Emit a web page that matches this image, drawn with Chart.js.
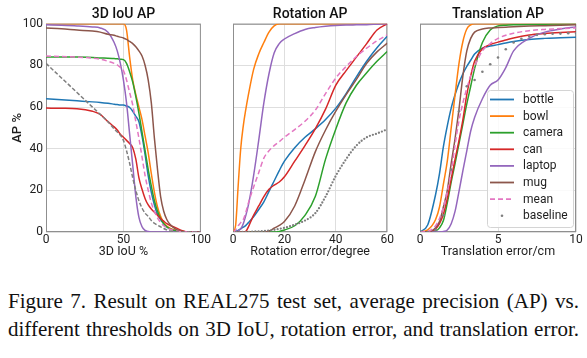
<!DOCTYPE html>
<html>
<head>
<meta charset="utf-8">
<script src="https://cdn.jsdelivr.net/npm/chart.js@4.4.1/dist/chart.umd.min.js"></script>
<style>
  body { margin: 0; background: #fff; width: 587px; height: 358px; position: relative; overflow: hidden; }
  canvas { position: absolute; top: 0; }
  #iouChart { left: 0; }
  #rotChart { left: 213px; }
  #transChart { left: 398px; }
  .caption {
    position: absolute; left: 8px; width: 571px; top: 287px;
    font-family: "Liberation Serif", "Times New Roman", serif;
    font-size: 21px; line-height: 28px; color: #111;
  }
  .caption div { text-align: justify; text-align-last: justify; }
</style>
</head>
<body>
<canvas id="iouChart" width="212" height="266"></canvas>
<canvas id="rotChart" width="182" height="266"></canvas>
<canvas id="transChart" width="189" height="266"></canvas>
<div class="caption">
  <div>Figure 7. Result on REAL275 test set, average precision (AP) vs.</div>
  <div>different thresholds on 3D IoU, rotation error, and translation error.</div>
</div>
<script>
// === Series ===
const seriesNames = ['bottle', 'bowl', 'camera', 'can', 'laptop', 'mug', 'mean', 'baseline'];

// === 3D IoU AP ===
const iouX = [0, 10, 20, 30, 35, 40, 44, 46, 48, 50, 52, 54, 56, 58, 60, 62, 64, 66, 68, 70, 72, 74, 76, 78, 80, 84, 88, 92, 100];
const iouBottle = [64, 63.5, 63, 62.5, 62.2, 61.8, 61.4, 61.2, 61, 61, 60.5, 59.8, 58, 55.5, 53, 46, 37, 27, 19, 13, 8.5, 6, 4, 2.5, 1.6, 0.6, 0.2, 0, 0];
const iouBowl = [100, 100, 100, 100, 100, 100, 100, 100, 100, 100, 97, 84, 73, 66, 60, 54, 46, 38, 28, 19, 12, 7.5, 4.5, 2.8, 1.8, 0.7, 0.2, 0, 0];
const iouCamera = [84, 84, 84, 83.8, 83.6, 83.5, 83.3, 83.2, 83, 82.8, 81, 77, 72, 65, 57, 48, 39, 30, 22, 15, 10, 6.5, 4, 2.5, 1.5, 0.5, 0.1, 0, 0];
const iouCan = [59.5, 59.4, 59.2, 58, 56.5, 53, 50.5, 49, 47, 45.5, 44, 42.5, 40.5, 35, 26, 20.5, 16, 13, 11, 9.5, 8, 6.5, 5.2, 4, 3.2, 2, 0.6, 0, 0];
const iouLaptop = [99.5, 99.3, 99, 98.5, 98, 96, 91, 87, 81, 73, 62, 47, 32, 17, 7, 2.5, 0.8, 0.2, 0, 0, 0, 0, 0, 0, 0, 0, 0, 0, 0];
const iouMug = [98, 97.6, 97, 96.5, 96, 95, 94.5, 94, 93.6, 93.2, 92.5, 91.5, 90.5, 89, 87, 84.5, 80, 73, 62, 45, 30, 17, 10, 6, 3.7, 1.3, 0.3, 0, 0];
const iouMean = [84.5, 84.3, 84, 83.5, 83, 82, 81, 80.3, 79, 77.5, 73, 67, 61, 53, 45, 36, 27, 20, 14, 10, 6.8, 4.5, 3, 2, 1.3, 0.5, 0.1, 0, 0];
const iouBaseline = [81, 74, 67, 60, 56.5, 53, 49.5, 48, 46.5, 44, 39, 33, 26, 20, 15, 11.5, 9, 7.5, 5.5, 4.2, 3.3, 2.5, 1.7, 1, 0.5, 0.1, 0, 0, 0];

// === Rotation AP ===
const rotX = [0, 1, 2, 3, 4, 5, 6, 8, 10, 12, 14, 16, 18, 20, 24, 28, 32, 36, 40, 44, 48, 52, 56, 60];
const rotBottle = [0, 0.3, 0.8, 1.5, 2.3, 3.2, 4.5, 7.3, 10.8, 14.5, 19.5, 24.5, 29.5, 34, 40.5, 45.5, 49.5, 54, 59.5, 66.5, 74.5, 82, 88.5, 94];
const rotBowl = [0, 3, 22, 40, 51, 59, 66, 78, 85.5, 91, 96, 99, 100, 100, 100, 100, 100, 100, 100, 100, 100, 100, 100, 100];
const rotCamera = [0, 0, 0, 0, 0, 0, 0, 0, 0, 0, 0, 0, 0.3, 1, 3, 8, 17, 35, 49.5, 62, 70.5, 76.5, 82, 86.7];
const rotCan = [0, 0, 0, 0, 0, 0.3, 2.5, 8, 12.5, 17, 20.5, 22.5, 24, 26.5, 34, 41.5, 49.5, 59, 70.5, 77.5, 84, 90.5, 97, 100];
const rotLaptop = [0, 0, 0.5, 1.5, 4, 8, 13, 27, 44, 62, 76, 86, 90.5, 92.7, 95.3, 97.3, 98.2, 98.8, 99.2, 99.4, 99.5, 99.6, 99.8, 100];
const rotMug = [0, 0, 0, 0, 0, 0, 0, 0, 0, 0, 0.5, 1.8, 3.2, 5, 12.5, 25, 38.5, 49, 58, 66, 73.3, 81, 86.5, 90.7];
const rotMean = [0, 1, 3, 4.5, 6, 9.5, 14, 21.5, 28.5, 35.5, 39, 41.5, 43.4, 45.5, 49.2, 53.2, 58.5, 66.5, 74, 79.5, 84.3, 88.3, 91.8, 94.7];
const rotBaseline = [0, 0, 0, 0, 0, 0, 0, 0.2, 0.3, 0.5, 0.7, 1, 1.5, 2, 3.5, 5.5, 9, 17, 27, 35, 41.5, 45.5, 47.3, 49.3];

// === Translation AP ===
const transX = [0, 0.5, 1, 1.25, 1.5, 1.75, 2, 2.25, 2.5, 2.75, 3, 3.25, 3.5, 4, 4.5, 5, 5.5, 6, 7, 8, 9, 10];
const transBottle = [0, 3.5, 18, 28, 41, 51, 59.5, 66, 71.5, 76, 79.5, 82.5, 85.5, 88.3, 89.3, 90, 90.8, 91.5, 92.5, 93, 93.3, 93.6];
const transBowl = [0, 1, 6, 12, 23, 34, 50, 66, 81, 91.5, 97.5, 99.5, 100, 100, 100, 100, 100, 100, 100, 100, 100, 100];
const transCamera = [0, 0, 0.5, 2, 5.5, 14, 24, 33, 42.5, 52, 61.5, 70, 78.5, 91, 97, 99, 99.3, 99.5, 99.7, 99.8, 99.9, 100];
const transCan = [0, 0, 1.5, 4, 8.5, 16, 25.5, 35, 44, 54, 66, 75, 82, 88, 90, 91.2, 92.2, 93.2, 94.6, 95.3, 95.8, 96.2];
const transLaptop = [0, 0, 0, 0, 0.3, 1, 4, 10, 19.5, 29.5, 39, 48.5, 55, 64, 70.5, 73, 79, 87, 93, 96, 97.5, 98.5];
const transMug = [0, 0, 2, 5, 12, 20, 33, 45, 59, 75, 87, 93, 96, 97.5, 98, 98.2, 98.4, 98.6, 98.9, 99.1, 99.3, 99.5];
const transMean = [0, 0.3, 3, 6.5, 12, 19.5, 29, 42, 53.5, 62, 69, 75, 79.5, 87, 90.5, 93, 94.5, 95.5, 96.7, 97.3, 97.7, 98];
const transBaseX = [0, 0.5, 1, 1.5, 2, 2.5, 3, 3.5, 4, 4.5, 5, 5.5, 6, 6.5, 7, 7.5, 8, 8.5, 9, 9.5, 10];
const transBaseline = [0, 0, 1, 8, 30, 58, 70, 73, 77, 80.6, 83.8, 87.8, 91, 92.8, 93.9, 94.7, 95, 95.2, 95.3, 95.5, 95.6];

// === Styles ===
const lineColors = {
  bottle: '#1f77b4', bowl: '#ff7f0e', camera: '#2ca02c', can: '#d62728',
  laptop: '#9467bd', mug: '#8c564b', mean: '#e377c2', baseline: '#7f7f7f'
};
const FONT = 'Roboto, "DejaVu Sans", sans-serif';
Chart.defaults.font.family = FONT;
Chart.defaults.color = '#1e1e1e';

function toPoints(xs, ys) {
  return xs.map((x, i) => ({ x: x, y: ys[i] }));
}

function makeDatasets(xs, series, baselineStyle) {
  return seriesNames.map((name, i) => {
    const ds = {
      label: name,
      data: toPoints(name === 'baseline' && baselineStyle.xs ? baselineStyle.xs : xs, series[i]),
      borderColor: lineColors[name],
      backgroundColor: lineColors[name],
      borderWidth: 1.5,
      pointRadius: 0,
      cubicInterpolationMode: 'monotone',
      order: seriesNames.length - i
    };
    if (name === 'mean') ds.borderDash = [5, 3];
    if (name === 'baseline') Object.assign(ds, baselineStyle.style);
    return ds;
  });
}

// plot frame (all four spines), under the curves
const framePlugin = {
  id: 'frame',
  beforeDatasetsDraw(chart) {
    const { ctx, chartArea: a } = chart;
    ctx.save();
    ctx.strokeStyle = '#8f8f8f';
    ctx.lineWidth = 1;
    ctx.strokeRect(a.left + 0.5, a.top + 0.5, a.right - a.left - 1, a.bottom - a.top - 1);
    ctx.restore();
  }
};

// legend box inside the translation panel
const boxLegendPlugin = {
  id: 'boxLegend',
  afterDatasetsDraw(chart) {
    const { ctx, chartArea: a } = chart;
    const w = 86, h = 137;
    const x0 = Math.round(a.right - 3 - w), y0 = Math.round(a.bottom - 5 - h);
    ctx.save();
    ctx.fillStyle = 'rgba(255,255,255,0.85)';
    ctx.strokeStyle = '#d4d4d4';
    ctx.lineWidth = 1;
    ctx.beginPath();
    ctx.roundRect(x0 + 0.5, y0 + 0.5, w, h, 3);
    ctx.fill();
    ctx.stroke();
    ctx.font = '12px ' + FONT;
    ctx.textBaseline = 'middle';
    ctx.fillStyle = '#1e1e1e';
    chart.data.datasets.forEach((ds, i) => {
      const y = y0 + 9.5 + i * 16.6;
      ctx.save();
      if (ds.showLine === false) {
        ctx.fillStyle = ds.pointBackgroundColor;
        ctx.beginPath();
        ctx.arc(x0 + 15, y, 1.3, 0, Math.PI * 2);
        ctx.fill();
      } else {
        ctx.strokeStyle = ds.borderColor;
        ctx.lineWidth = 1.8;
        ctx.setLineDash(ds.borderDash || []);
        ctx.beginPath();
        ctx.moveTo(x0 + 3, y);
        ctx.lineTo(x0 + 27, y);
        ctx.stroke();
      }
      ctx.restore();
      ctx.fillText(ds.label, x0 + 36, y + 0.5);
    });
    ctx.restore();
  }
};

function buildPanel(canvasId, cfg) {
  return new Chart(document.getElementById(canvasId), {
    type: 'line',
    data: { datasets: cfg.datasets },
    options: {
      responsive: false,
      animation: false,
      layout: { padding: { left: 0, right: cfg.padRight, top: 0, bottom: 0 } },
      plugins: {
        legend: { display: false },
        tooltip: { enabled: false },
        title: {
          display: true,
          text: cfg.title,
          fullSize: false,
          color: '#111',
          font: { size: 14, weight: '500', lineHeight: 1.2 },
          padding: { top: 6, bottom: 1 }
        }
      },
      scales: {
        x: {
          type: 'linear',
          min: cfg.xMin,
          max: cfg.xMax,
          ticks: { stepSize: cfg.xStep, padding: 1, font: { size: 12 }, color: '#1e1e1e', maxRotation: 0 },
          grid: { color: '#dedede', drawTicks: false },
          border: { display: false },
          title: {
            display: true,
            text: cfg.xTitle,
            font: { size: 12.5 },
            color: '#1e1e1e',
            padding: { top: 0, bottom: 7 }
          },
          afterFit: s => { s.height = 34; }
        },
        y: {
          min: 0,
          max: 100,
          ticks: { stepSize: 20, display: cfg.showY, padding: 3, font: { size: 12 }, color: '#1e1e1e' },
          grid: { color: '#dedede', drawTicks: false },
          border: { display: false },
          title: {
            display: cfg.showY,
            text: 'AP %',
            font: { size: 13, weight: '500' },
            color: '#1e1e1e',
            padding: { top: 10, bottom: 0 }
          },
          afterFit: s => { s.width = cfg.yWidth; }
        }
      }
    },
    plugins: cfg.legend ? [framePlugin, boxLegendPlugin] : [framePlugin]
  });
}

buildPanel('iouChart', {
  title: '3D IoU AP',
  xTitle: '3D IoU %',
  xMin: 0, xMax: 100, xStep: 50,
  showY: true, yWidth: 46, padRight: 10,
  datasets: makeDatasets(iouX,
    [iouBottle, iouBowl, iouCamera, iouCan, iouLaptop, iouMug, iouMean, iouBaseline],
    { style: { borderDash: [4, 2] } })
});

buildPanel('rotChart', {
  title: 'Rotation AP',
  xTitle: 'Rotation error/degree',
  xMin: 0, xMax: 60, xStep: 20,
  showY: false, yWidth: 20, padRight: 7,
  datasets: makeDatasets(rotX,
    [rotBottle, rotBowl, rotCamera, rotCan, rotLaptop, rotMug, rotMean, rotBaseline],
    { style: { borderDash: [0, 3.2], borderCapStyle: 'round', borderWidth: 2.3 } })
});

buildPanel('transChart', {
  title: 'Translation AP',
  xTitle: 'Translation error/cm',
  xMin: 0, xMax: 10, xStep: 5,
  showY: false, yWidth: 22, padRight: 11,
  legend: true,
  datasets: makeDatasets(transX,
    [transBottle, transBowl, transCamera, transCan, transLaptop, transMug, transMean, transBaseline],
    { xs: transBaseX, style: { showLine: false, pointRadius: 1.3, pointBackgroundColor: '#7f7f7f', pointBorderWidth: 0 } })
});
</script>
</body>
</html>
